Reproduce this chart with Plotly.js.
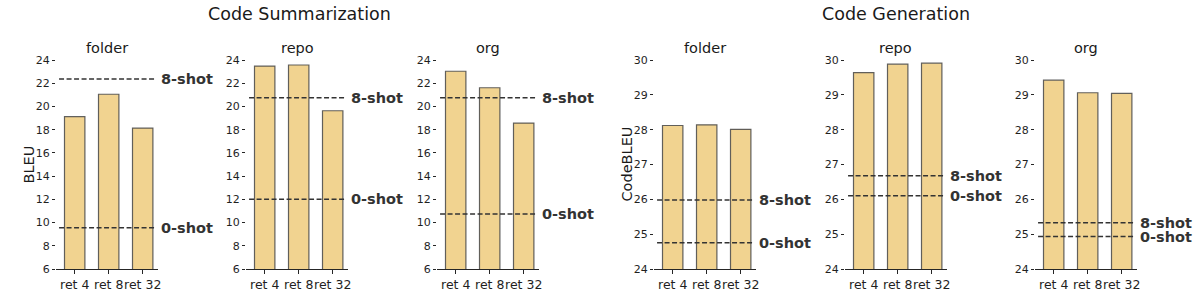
<!DOCTYPE html>
<html>
<head>
<meta charset="utf-8">
<script src="https://cdn.plot.ly/plotly-3.0.1.min.js"></script>
<style>html,body{margin:0;padding:0;background:#fff;}#chart{width:1196px;height:299px;}</style>
</head>
<body>
<div id="chart"></div>
<script>
// ---- data ----
const categories = ['ret 4', 'ret 8', 'ret 32'];
const scopes = ['folder', 'repo', 'org'];
const groupTitles = ['Code Summarization', 'Code Generation'];
const metricNames = ['BLEU', 'CodeBLEU'];

const summFolder = [19.12, 21.05, 18.14];
const summRepo   = [23.48, 23.57, 19.63];
const summOrg    = [23.03, 21.61, 18.57];
const genFolder  = [28.12, 28.14, 28.01];
const genRepo    = [29.64, 29.88, 29.91];
const genOrg     = [29.42, 29.06, 29.04];

const summShot0 = [9.56, 12.0, 10.74];
const summShot8 = [22.36, 20.75, 20.75];
const genShot0  = [24.75, 26.1, 24.93];
const genShot8  = [25.98, 26.68, 25.33];

const summTicks = [6, 8, 10, 12, 14, 16, 18, 20, 22, 24];
const genTicks  = [24, 25, 26, 27, 28, 29, 30];

// ---- layout helpers ----
const W = 1196, H = 299;
const leftPx = [56, 246, 437, 654, 845, 1035];
const plotW = 102;
const yTop = 1 - 60 / H, yBot = 1 - 269 / H;

const panels = [
  {vals: summFolder, s0: summShot0[0], s8: summShot8[0], range: [6, 24], ticks: summTicks, title: scopes[0], ytitle: metricNames[0]},
  {vals: summRepo,   s0: summShot0[1], s8: summShot8[1], range: [6, 24], ticks: summTicks, title: scopes[1]},
  {vals: summOrg,    s0: summShot0[2], s8: summShot8[2], range: [6, 24], ticks: summTicks, title: scopes[2]},
  {vals: genFolder,  s0: genShot0[0],  s8: genShot8[0],  range: [24, 30], ticks: genTicks, title: scopes[0], ytitle: metricNames[1]},
  {vals: genRepo,    s0: genShot0[1],  s8: genShot8[1],  range: [24, 30], ticks: genTicks, title: scopes[1]},
  {vals: genOrg,     s0: genShot0[2],  s8: genShot8[2],  range: [24, 30], ticks: genTicks, title: scopes[2]}
];

const FONT = 'DejaVu Sans';
const traces = [];
const layout = {
  width: W, height: H,
  margin: {l: 0, r: 0, t: 0, b: 0},
  paper_bgcolor: '#fff', plot_bgcolor: '#fff',
  showlegend: false,
  font: {family: FONT, color: '#262626'},
  shapes: [], annotations: []
};

panels.forEach((p, i) => {
  const n = i + 1;
  const xa = n === 1 ? 'x' : 'x' + n;
  const ya = n === 1 ? 'y' : 'y' + n;
  const xk = n === 1 ? 'xaxis' : 'xaxis' + n;
  const yk = n === 1 ? 'yaxis' : 'yaxis' + n;
  const d0 = leftPx[i] / W, d1 = (leftPx[i] + plotW) / W;

  traces.push({
    type: 'bar', x: categories, y: p.vals, xaxis: xa, yaxis: ya,
    width: 0.6,
    marker: {color: '#F1D390', line: {color: 'rgba(70,70,70,0.85)', width: 1.2}},
    hoverinfo: 'x+y'
  });

  layout[xk] = {
    domain: [d0, d1], anchor: ya, type: 'category',
    range: [-0.55, 2.45], tickangle: 0,
    showline: true, linecolor: '#262626', linewidth: 1,
    ticks: 'outside', ticklen: 4, tickwidth: 1, tickcolor: '#262626',
    showgrid: false, zeroline: false,
    tickfont: {size: 12.5, family: FONT, color: '#1f1f1f'}
  };
  layout[yk] = {
    domain: [yBot, yTop], anchor: xa,
    range: p.range, tickvals: p.ticks,
    showline: false, showgrid: false, zeroline: false,
    ticks: 'outside', ticklen: 3, tickwidth: 1, tickcolor: '#262626',
    tickfont: {size: 11, family: FONT, color: '#1f1f1f'}
  };
  if (p.ytitle) {
    layout.annotations.push({
      xref: 'paper', yref: 'paper', x: (leftPx[i] - 28) / W, y: (yTop + yBot) / 2,
      xanchor: 'center', yanchor: 'middle', showarrow: false, textangle: -90,
      text: p.ytitle, font: {size: 14.5, family: FONT, color: '#1a1a1a'}
    });
  }

  // shot lines
  [[p.s8, '8-shot'], [p.s0, '0-shot']].forEach(([v, lab]) => {
    layout.shapes.push({
      type: 'line', xref: xa + ' domain', yref: ya,
      x0: 0.03, x1: 0.97, y0: v, y1: v,
      line: {color: '#333333', width: 1.5, dash: '5px,2.5px'}
    });
    layout.annotations.push({
      xref: xa + ' domain', yref: ya, x: 1.0, y: v,
      xanchor: 'left', yanchor: 'middle', showarrow: false, xshift: 1,
      text: '<b>' + lab + '</b>',
      font: {size: 14.5, family: FONT, color: '#333333'}
    });
  });

  // subplot title
  layout.annotations.push({
    xref: 'paper', yref: 'paper', x: (d0 + d1) / 2, y: 1 - 48 / H,
    xanchor: 'center', yanchor: 'middle', showarrow: false,
    text: p.title, font: {size: 14.5, family: FONT, color: '#1a1a1a'}
  });
});

// group titles
[[299, groupTitles[0]], [896, groupTitles[1]]].forEach(([cx, t]) => {
  layout.annotations.push({
    xref: 'paper', yref: 'paper', x: cx / W, y: 1 - 14 / H,
    xanchor: 'center', yanchor: 'middle', showarrow: false,
    text: t, font: {size: 17.5, family: FONT, color: '#1a1a1a'}
  });
});

Plotly.newPlot('chart', traces, layout, {displayModeBar: false, staticPlot: true});
</script>
</body>
</html>
